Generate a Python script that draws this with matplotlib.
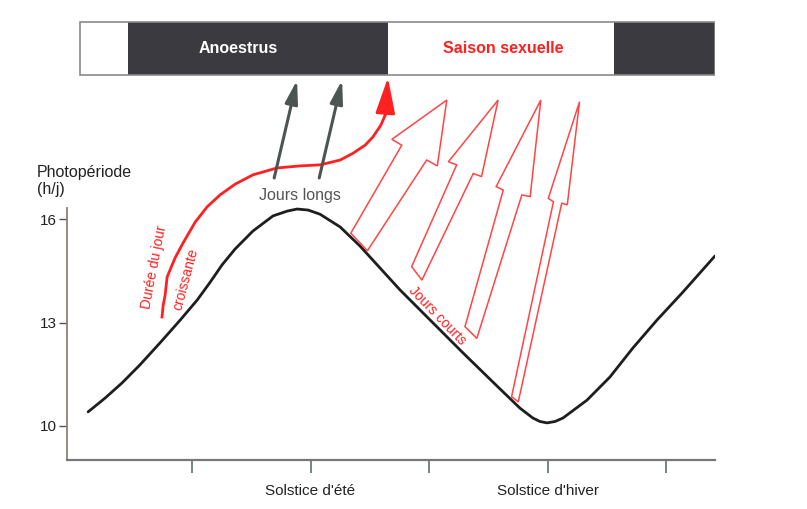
import matplotlib.pyplot as plt
from matplotlib.patches import Rectangle, Polygon, FancyArrowPatch

plt.rcParams['font.family'] = ['Liberation Sans', 'DejaVu Sans']

# axe x : mois de l'année (3 = équinoxe, 6 = solstice d'été, 12 = solstice d'hiver)
# axe y : photopériode en heures de jour
mois = [0.37, 0.80, 1.23, 1.68, 2.19, 2.70, 3.13, 3.46, 3.76, 4.09, 4.54, 5.05,
        5.41, 5.66, 5.94, 6.24, 6.75, 7.25, 7.76, 8.27, 9.03, 9.86, 10.72, 11.30,
        11.63, 11.81, 11.99, 12.19, 12.39, 13.00, 13.58, 14.16, 14.77, 15.41, 16.24]
photoperiode = [10.41, 10.81, 11.25, 11.77, 12.41, 13.07, 13.65, 14.17, 14.67, 15.13,
                15.65, 16.09, 16.23, 16.29, 16.26, 16.14, 15.77, 15.22, 14.58, 13.94,
                13.07, 12.12, 11.16, 10.52, 10.23, 10.13, 10.09, 10.13, 10.23, 10.75,
                11.42, 12.26, 13.07, 13.86, 14.93]

# courbe rouge "durée du jour croissante"
croissante_x = [2.24, 2.27, 2.32, 2.37, 2.57, 2.77, 3.08, 3.38, 3.71, 4.09, 4.54, 5.15,
                5.73, 6.24, 6.75, 7.08, 7.38, 7.58, 7.78, 7.89]
croissante_y = [13.16, 13.50, 13.80, 14.32, 14.87, 15.30, 15.91, 16.35, 16.70, 17.01,
                17.28, 17.48, 17.54, 17.57, 17.71, 17.91, 18.14, 18.38, 18.72, 19.01]
pointe_rouge = (7.96, 20.10)

# flèches grises "jours longs"
longs_depart = [(5.08, 17.19), (6.22, 17.19)]
longs_pointe = [(5.66, 20.03), (6.80, 20.03)]

# flèches rouges creuses "jours courts"
courts = [
    [(7.02, 15.59), (8.31, 18.14), (8.06, 18.31), (9.45, 19.45), (9.21, 17.54), (8.94, 17.71), (7.44, 15.08)],
    [(8.56, 14.62), (9.70, 17.57), (9.49, 17.66), (10.75, 19.45), (10.33, 17.23), (10.12, 17.32), (8.82, 14.23)],
    [(9.91, 12.88), (10.88, 16.84), (10.70, 16.94), (11.83, 19.45), (11.56, 16.65), (11.35, 16.70), (10.21, 12.54)],
    [(11.09, 10.85), (12.15, 16.50), (12.02, 16.60), (12.81, 19.40), (12.50, 16.41), (12.36, 16.46), (11.26, 10.70)],
]

# bandeau des périodes
periode_debut = [0.165, 1.38, 7.96, 13.68]
periode_fin = [1.38, 7.96, 13.68, 16.24]
periode_sombre = [False, True, False, True]
bandeau_bas, bandeau_haut = 20.17, 21.71

ticks_x = [3, 6, 9, 12, 15]
ticks_x_labels = ["", "Solstice d'été", "", "Solstice d'hiver", ""]
ticks_y = [10, 13, 16]

SOMBRE = "#3b3a40"
ROUGE = "#ff2020"
GRIS = "#4d5553"

fig = plt.figure(figsize=(8.07, 5.09), dpi=100)
ax = fig.add_axes([67 / 807, 1 - 460 / 509, 648 / 807, 460 / 509])
ax.set_xlim(-0.165, 16.24)
ax.set_ylim(9.014, 22.35)

# courbe principale
ax.plot(mois, photoperiode, color="#1e1e1e", lw=2.0, solid_joinstyle="round",
        solid_capstyle="round", zorder=3)

# bandeau
for d, f, s in zip(periode_debut, periode_fin, periode_sombre):
    ax.add_patch(Rectangle((d, bandeau_bas), f - d, bandeau_haut - bandeau_bas,
                           facecolor=SOMBRE if s else "white", edgecolor="none", zorder=2))
ax.add_patch(Rectangle((periode_debut[0], bandeau_bas), periode_fin[-1] - periode_debut[0],
                       bandeau_haut - bandeau_bas, facecolor="none", edgecolor="#8a8a8a",
                       lw=1.2, zorder=4))
ax.text(4.16, 20.94, "Anoestrus", color="white", fontsize=11.5, fontweight="bold",
        ha="center", va="center", zorder=5)
ax.text(10.88, 20.94, "Saison sexuelle", color=ROUGE, fontsize=11.5, fontweight="bold",
        ha="center", va="center", zorder=5)

# durée du jour croissante
ax.plot(croissante_x, croissante_y, color=ROUGE, lw=2.0, solid_joinstyle="round", zorder=3)
ax.add_patch(FancyArrowPatch((croissante_x[-1], croissante_y[-1]), pointe_rouge,
                             arrowstyle="-|>,head_length=2.2,head_width=0.6",
                             mutation_scale=10, color=ROUGE, lw=2.0,
                             shrinkA=0, shrinkB=0, zorder=4))

# jours longs
for dep, pt in zip(longs_depart, longs_pointe):
    ax.add_patch(FancyArrowPatch(dep, pt, arrowstyle="-|>,head_length=1.4,head_width=0.38",
                                 mutation_scale=10, color=GRIS, lw=2.2,
                                 shrinkA=0, shrinkB=0, zorder=4))

# jours courts
for poly in courts:
    ax.add_patch(Polygon(poly, closed=True, facecolor="white", edgecolor="#ff4545",
                         lw=1.1, zorder=4))

# textes
ax.text(5.72, 16.68, "Jours longs", color="#555555", fontsize=11.5, ha="center", va="center")
ax.text(2.05, 14.6, "Durée du jour", color=ROUGE, fontsize=10, rotation=79,
        ha="center", va="center")
ax.text(2.84, 14.25, "croissante", color=ROUGE, fontsize=10, rotation=75,
        ha="center", va="center")
ax.text(9.2, 13.2, "Jours courts", color=ROUGE, fontsize=10, rotation=-46,
        ha="center", va="center")
ax.text(-0.92, 17.10, "Photopériode\n(h/j)", fontsize=11.5, color="#222222",
        ha="left", va="center", linespacing=1.2, clip_on=False)

# axes
for side in ["top", "right"]:
    ax.spines[side].set_visible(False)
ax.spines["left"].set_bounds(9.014, 16.32)
ax.spines["left"].set_color("#8a8270")
ax.spines["bottom"].set_color("#777777")
ax.spines["left"].set_linewidth(1.3)
ax.spines["bottom"].set_linewidth(1.6)

ax.set_xticks(ticks_x)
ax.set_xticklabels(ticks_x_labels, fontsize=11, color="#222222")
ax.tick_params(axis="x", length=9.5, width=1.2, color="#607070", pad=8)
ax.set_yticks(ticks_y)
ax.set_yticklabels([str(t) for t in ticks_y], fontsize=11, color="#222222")
ax.tick_params(axis="y", length=5.5, width=1.0, color="#555555", pad=1.5)

fig.savefig("out.png", dpi=100)
